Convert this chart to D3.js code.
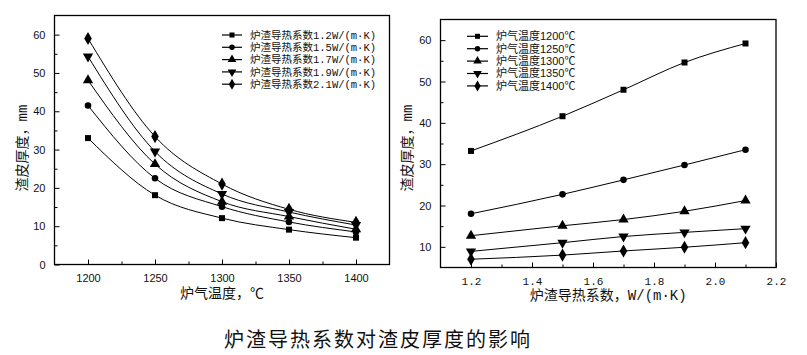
<!DOCTYPE html>
<html><head><meta charset="utf-8">
<script src="https://cdn.jsdelivr.net/npm/d3@7"></script>
<style>
body{margin:0;background:#fff;}
svg{display:block;}
text{fill:#111;}
</style></head>
<body><svg id="c" width="807" height="355"></svg>
<script>
// ---- data ----
const temps = [1200, 1250, 1300, 1350, 1400];
const conds = [1.2, 1.5, 1.7, 1.9, 2.1];
const leftSeriesNames = ["炉渣导热系数1.2W/(m·K)","炉渣导热系数1.5W/(m·K)","炉渣导热系数1.7W/(m·K)","炉渣导热系数1.9W/(m·K)","炉渣导热系数2.1W/(m·K)"];
const leftK12 = [33.0, 18.1, 12.1, 9.1, 7.0];
const leftK15 = [41.5, 22.5, 15.1, 11.1, 8.5];
const leftK17 = [48.1, 26.2, 16.4, 12.5, 9.2];
const leftK19 = [54.3, 29.5, 18.4, 13.7, 10.3];
const leftK21 = [59.0, 33.4, 21.0, 14.4, 11.0];
const rightSeriesNames = ["炉气温度1200℃","炉气温度1250℃","炉气温度1300℃","炉气温度1350℃","炉气温度1400℃"];
const rightT1200 = [33.2, 41.6, 48.0, 54.6, 59.2];
const rightT1250 = [18.0, 22.7, 26.2, 29.8, 33.5];
const rightT1300 = [12.7, 15.1, 16.6, 18.6, 21.2];
const rightT1350 = [8.9, 11.0, 12.5, 13.5, 14.4];
const rightT1400 = [7.0, 8.0, 9.0, 9.9, 11.0];
const leftXTicks = [1200, 1250, 1300, 1350, 1400];
const leftYTicks = [0, 10, 20, 30, 40, 50, 60];
const rightXTicks = [1.2, 1.4, 1.6, 1.8, 2.0, 2.2];
const rightYTicks = [10, 20, 30, 40, 50, 60];
const title = "炉渣导热系数对渣皮厚度的影响";

const svg = d3.select("#c");
const markerTypes = [d3.symbolSquare, d3.symbolCircle, d3.symbolTriangle, "tridown", d3.symbolDiamond];

function marker(g, type, x, y, s) {
  if (type === "tridown") {
    const p = d3.symbol().type(d3.symbolTriangle).size(s)();
    g.append("path").attr("d", p).attr("transform", `translate(${x},${y}) rotate(180)`).attr("fill", "#000");
  } else {
    g.append("path").attr("d", d3.symbol().type(type).size(s)()).attr("transform", `translate(${x},${y})`).attr("fill", "#000");
  }
}
const msize = [36, 34, 46, 46, 50];

function panel(opt) {
  const {L, T, R, B, xDomain, yDomain, xTicks, xMinor, yTicks, yMinor, xs, series, names, xFmt, xTickFont, legend, xLabel, yLabel, yLabelY, xLabelY} = opt;
  const x = d3.scaleLinear().domain(xDomain).range([L, R]);
  const y = d3.scaleLinear().domain(yDomain).range([B, T]);
  const g = svg.append("g");
  // frame
  g.append("rect").attr("x", L).attr("y", T).attr("width", R - L).attr("height", B - T)
    .attr("fill", "none").attr("stroke", "#000").attr("stroke-width", 1.3);
  // axes (ticks inward)
  const xa = d3.axisBottom(x).tickValues(xTicks).tickSizeInner(-5).tickSizeOuter(0).tickPadding(10).tickFormat(xFmt);
  const gx = g.append("g").attr("transform", `translate(0,${B})`).call(xa);
  gx.select(".domain").remove();
  gx.selectAll("text").attr("font-family", xTickFont).attr("font-size", 11).attr("fill", "#111");
  const gxm = g.append("g").attr("transform", `translate(0,${B})`).call(d3.axisBottom(x).tickValues(xMinor).tickSizeInner(-3).tickSizeOuter(0).tickFormat(""));
  gxm.select(".domain").remove();
  const ya = d3.axisLeft(y).tickValues(yTicks).tickSizeInner(-5).tickSizeOuter(0).tickPadding(9);
  const gy = g.append("g").attr("transform", `translate(${L},0)`).call(ya);
  gy.select(".domain").remove();
  gy.selectAll("text").attr("font-family", "Liberation Sans, Arial").attr("font-size", 11).attr("fill", "#111");
  const gym = g.append("g").attr("transform", `translate(${L},0)`).call(d3.axisLeft(y).tickValues(yMinor).tickSizeInner(-3).tickSizeOuter(0).tickFormat(""));
  gym.select(".domain").remove();
  g.selectAll(".tick line").attr("stroke", "#000");
  // lines
  const line = d3.line().x((d, i) => x(xs[i])).y(d => y(d)).curve(d3.curveMonotoneX);
  series.forEach((s, k) => {
    g.append("path").attr("d", line(s)).attr("fill", "none").attr("stroke", "#000").attr("stroke-width", 1);
    s.forEach((v, i) => marker(g, markerTypes[k], x(xs[i]), y(v), msize[k]));
  });
  // legend
  names.forEach((n, k) => {
    const ly = legend.y + k * legend.dy;
    g.append("line").attr("x1", legend.x).attr("x2", legend.x + legend.w).attr("y1", ly).attr("y2", ly).attr("stroke", "#000").attr("stroke-width", 1.2);
    marker(g, markerTypes[k], legend.x + legend.w / 2, ly, msize[k] * 0.7);
    g.append("text").attr("x", legend.x + legend.w + legend.gap).attr("y", ly).attr("dy", "0.36em")
      .attr("font-family", legend.font).attr("font-size", legend.fs).text(n);
  });
  // axis labels
  g.append("text").attr("x", (L + R) / 2).attr("y", xLabelY).attr("text-anchor", "middle").attr("dy", "0.36em")
    .attr("font-family", "Liberation Mono, Noto Sans CJK SC").attr("font-size", 14).text(xLabel);
  g.append("text").attr("transform", `translate(${opt.yLabelX},${yLabelY}) rotate(-90)`).attr("text-anchor", "middle").attr("dy", "0.36em")
    .attr("font-family", "Liberation Mono, Noto Sans CJK SC").attr("font-size", 14).text(yLabel);
}

panel({
  L: 54.5, T: 15.5, R: 389.5, B: 264.5,
  xDomain: [1175, 1425], yDomain: [0, 65],
  xTicks: leftXTicks, xMinor: [1225, 1275, 1325, 1375],
  yTicks: leftYTicks, yMinor: [5, 15, 25, 35, 45, 55],
  xs: temps, series: [leftK12, leftK15, leftK17, leftK19, leftK21], names: leftSeriesNames,
  xFmt: d3.format("d"), xTickFont: "Liberation Sans, Arial",
  legend: {x: 222, y: 35, dy: 12.3, w: 20, gap: 8, fs: 10.5, font: "Liberation Mono, Noto Sans CJK SC"},
  xLabel: "炉气温度，℃", xLabelY: 293, yLabel: "渣皮厚度，mm", yLabelX: 22, yLabelY: 148
});

panel({
  L: 440.5, T: 19.5, R: 776, B: 267.5,
  xDomain: [1.1, 2.2], yDomain: [5, 65],
  xTicks: rightXTicks, xMinor: [1.3, 1.5, 1.7, 1.9, 2.1],
  yTicks: rightYTicks, yMinor: [15, 25, 35, 45, 55],
  xs: conds, series: [rightT1200, rightT1250, rightT1300, rightT1350, rightT1400], names: rightSeriesNames,
  xFmt: d3.format(".1f"), xTickFont: "Liberation Mono, DejaVu Sans Mono",
  legend: {x: 467, y: 36.3, dy: 12.4, w: 21, gap: 8, fs: 11, font: "Liberation Sans, Noto Sans CJK SC"},
  xLabel: "炉渣导热系数，W/(m·K)", xLabelY: 295, yLabel: "渣皮厚度，mm", yLabelX: 407, yLabelY: 148
});

svg.append("text").attr("x", 378).attr("y", 340).attr("dy", "0.36em").attr("text-anchor", "middle")
  .attr("font-family", "Noto Sans CJK SC").attr("font-size", 20).attr("letter-spacing", 2).text(title);
</script>
</body></html>
